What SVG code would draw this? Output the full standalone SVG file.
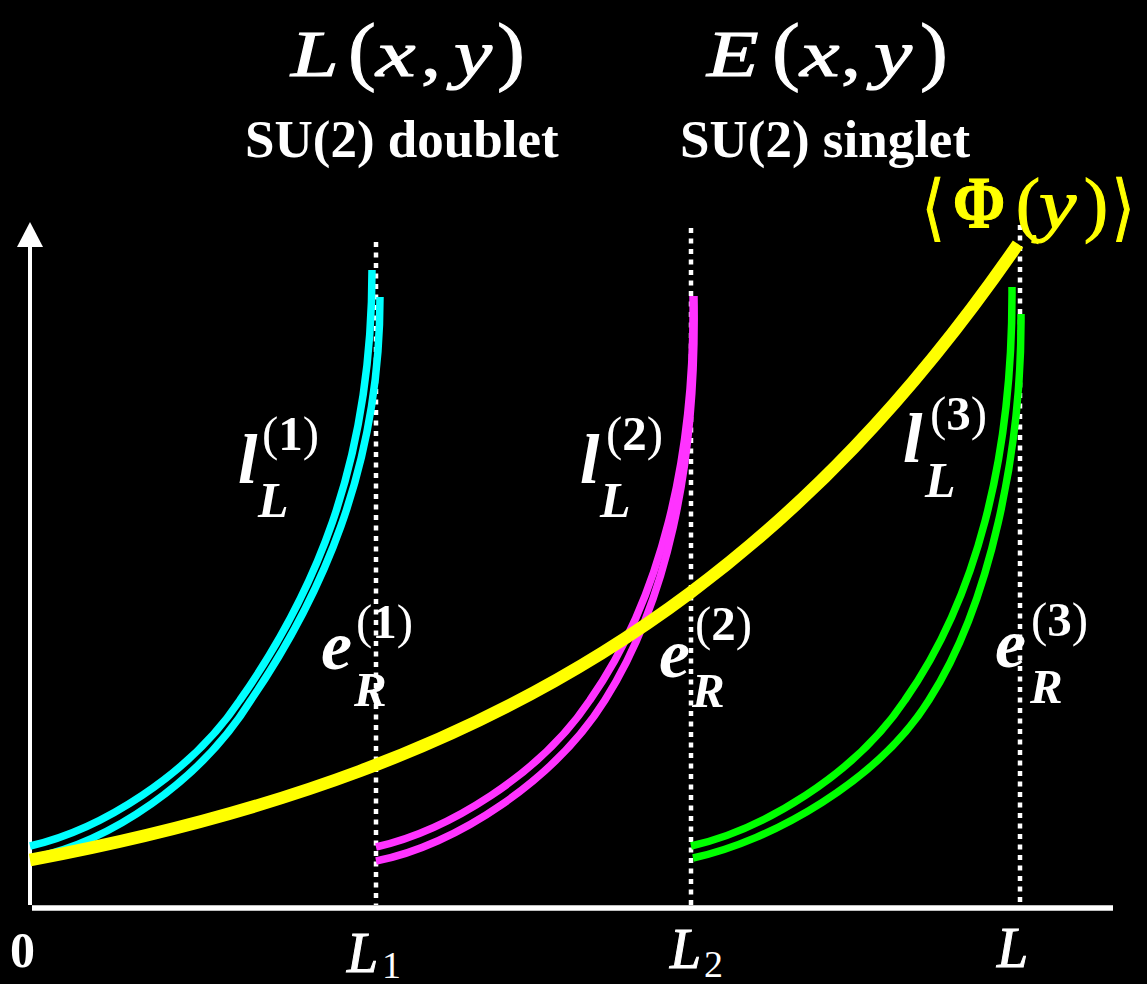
<svg xmlns="http://www.w3.org/2000/svg" width="1147" height="984" viewBox="0 0 1147 984">
<style>
.m{font-family:"Liberation Serif",serif;font-style:italic;fill:#fff}
.p{font-family:"Liberation Serif",serif;fill:#fff}
.b{font-family:"Liberation Serif",serif;font-weight:bold;fill:#fff}
.bi{font-family:"Liberation Serif",serif;font-weight:bold;font-style:italic;fill:#fff}
.t{stroke:#fff;stroke-width:1}
.ty{stroke:#ffff00;stroke-width:1.2}
.y{fill:#ffff00}
.dash{stroke:#fff;stroke-width:4.5;stroke-dasharray:5 5.5;fill:none}
.c{fill:none;stroke-width:7.5}
</style>
<rect width="1147" height="984" fill="#000"/>
<g id="axes">
<line x1="30" y1="245" x2="30" y2="905" stroke="#fff" stroke-width="4"/>
<polygon points="30,222 17,247 43,247" fill="#fff"/>
<line x1="32" y1="908" x2="1113" y2="908" stroke="#fff" stroke-width="5.5"/>
</g>
<g id="boundaries">
<line class="dash" x1="376" y1="242" x2="376" y2="905"/>
<line class="dash" x1="691" y1="228" x2="691" y2="905"/>
<line class="dash" x1="1020" y1="225" x2="1020" y2="905"/>
</g>
<g id="cyan">
<path class="c" stroke="#00ffff" d="M30,846 C100,830 190,775 240,700 C310,600 372,470 372,270"/>
<path class="c" stroke="#00ffff" d="M32,858 C110,842 200,782 251,700 C319,600 380,470 380,297"/>
</g>
<g id="magenta">
<path class="c" stroke="#ff33ff" d="M376,847 C447,831 540,775 590,700 C660,600 695,460 693,296"/>
<path class="c" stroke="#ff33ff" d="M376,861 C455,846 555,780 605,700 C665,605 697,470 694,296"/>
</g>
<g id="green">
<path class="c" stroke="#00ff00" d="M691,846 C762,830 855,775 905,700 C975,600 1013,460 1012,287"/>
<path class="c" stroke="#00ff00" d="M693,858 C772,841 879,780 929,700 C990,605 1022,450 1021,314"/>
</g>
<g id="vev">
<path fill="none" stroke="#ffff00" stroke-width="12.5" d="M30,860 C140,839.4 250,812.1 360,771 C470,729.9 580,675.2 690,593 C799,511.5 908,403.7 1018,244"/>
</g>
<g id="titles">
<text class="m t" font-size="66" transform="translate(291,76) scale(1.3,1)">L</text>
<text class="p t" font-size="76" transform="translate(348,76) scale(1.1,1)">(</text>
<text class="m t" font-size="66" transform="translate(376,76) scale(1.35,1)">x</text>
<text class="p t" font-size="66" transform="translate(421,76) scale(1.2,1)">,</text>
<text class="m t" font-size="66" transform="translate(454,76) scale(1.3,1)">y</text>
<text class="p t" font-size="76" transform="translate(497,76) scale(1.1,1)">)</text>
<text class="m t" font-size="66" transform="translate(707,76) scale(1.28,1)">E</text>
<text class="p t" font-size="76" transform="translate(772,76) scale(1.1,1)">(</text>
<text class="m t" font-size="66" transform="translate(800,76) scale(1.35,1)">x</text>
<text class="p t" font-size="66" transform="translate(841,76) scale(1.2,1)">,</text>
<text class="m t" font-size="66" transform="translate(874,76) scale(1.3,1)">y</text>
<text class="p t" font-size="76" transform="translate(920,76) scale(1.1,1)">)</text>
<text class="b" font-size="53" x="245" y="157">SU(2) doublet</text>
<text class="b" font-size="53" x="680" y="157">SU(2) singlet</text>
</g>
<g id="phi-label">
<text class="p y ty" font-family="DejaVu Serif" font-size="72" transform="translate(922,232) scale(0.8,1)">⟨</text>
<text class="b y ty" font-size="74" transform="translate(953,228) scale(0.85,1)">Φ</text>
<text class="p y ty" font-size="72" x="1016" y="228">(</text>
<text class="m y ty" font-size="70" transform="translate(1039,228) scale(1.2,1)">y</text>
<text class="p y ty" font-size="72" x="1084" y="228">)</text>
<text class="p y ty" font-family="DejaVu Serif" font-size="72" transform="translate(1112,232) scale(0.8,1)">⟩</text>
</g>
<g id="labels">
<text class="bi" font-size="70" x="238" y="483">l</text>
<text class="p" font-size="49" x="262" y="450">(<tspan class="b">1</tspan>)</text>
<text class="bi" font-size="50" x="258" y="517">L</text>
<text class="bi" font-size="70" x="580" y="483">l</text>
<text class="p" font-size="49" x="606" y="450">(<tspan class="b">2</tspan>)</text>
<text class="bi" font-size="50" x="600" y="517">L</text>
<text class="bi" font-size="70" x="903" y="462">l</text>
<text class="p" font-size="49" x="930" y="430">(<tspan class="b">3</tspan>)</text>
<text class="bi" font-size="50" x="925" y="497">L</text>
<text class="bi" font-size="70" x="321" y="669">e</text>
<text class="p" font-size="49" x="356" y="638">(<tspan class="b">1</tspan>)</text>
<text class="bi" font-size="49" x="354" y="706">R</text>
<text class="bi" font-size="70" x="659" y="677">e</text>
<text class="p" font-size="49" x="695" y="640">(<tspan class="b">2</tspan>)</text>
<text class="bi" font-size="49" x="692" y="707">R</text>
<text class="bi" font-size="70" x="995" y="667">e</text>
<text class="p" font-size="49" x="1031" y="636">(<tspan class="b">3</tspan>)</text>
<text class="bi" font-size="49" x="1030" y="703">R</text>
</g>
<g id="ticks">
<text class="b" font-size="50" x="10" y="967">0</text>
<text class="m t" font-size="56" x="347" y="972" stroke-width="1">L</text>
<text class="p" font-size="38" x="382" y="978">1</text>
<text class="m t" font-size="56" x="670" y="968" stroke-width="1">L</text>
<text class="p" font-size="38" x="704" y="977">2</text>
<text class="m t" font-size="56" x="997" y="967" stroke-width="1">L</text>
</g>
</svg>
